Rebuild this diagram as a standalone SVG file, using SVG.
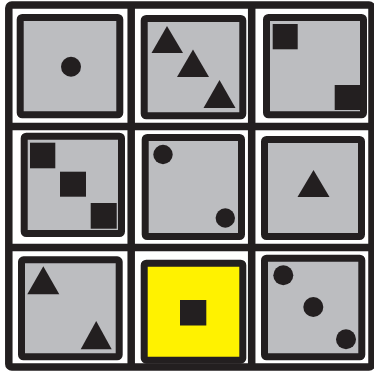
<svg xmlns="http://www.w3.org/2000/svg" width="374" height="373" viewBox="0 0 374 373">
<style>
.box{fill:#bcbdc0;stroke:#231f20;stroke-width:7}
.yel{fill:#fff200;stroke:#231f20;stroke-width:7}
.grid{fill:none;stroke:#231f20;stroke-width:7.5}
.s{fill:#231f20}
</style>
<rect width="374" height="373" fill="#ffffff"/>
<g id="grid" class="grid">
<rect x="8.8" y="5" width="363.2" height="362" rx="3"/>
<line x1="131.2" y1="5" x2="131.2" y2="367"/>
<line x1="251.7" y1="5" x2="251.7" y2="367"/>
<line x1="8.8" y1="126.4" x2="372" y2="126.4"/>
<line x1="8.8" y1="247.4" x2="372" y2="247.4"/>
</g>
<g id="cell1">
<rect class="box" x="20.2" y="17.5" width="99.6" height="97.3" rx="2"/>
<circle class="s" cx="71" cy="66.7" r="10"/>
</g>
<g id="cell2">
<rect class="box" x="144.2" y="18.5" width="98.6" height="97.3" rx="2"/>
<polygon class="s" points="167,26 183,53 151.5,53"/>
<polygon class="s" points="193,49.5 209,77 177,77"/>
<polygon class="s" points="219.5,80 235.5,108 203.5,108"/>
</g>
<g id="cell3">
<rect class="box" x="266.5" y="17.5" width="97" height="97.3" rx="2"/>
<rect class="s" x="272.7" y="24" width="25" height="25.3"/>
<rect class="s" x="334.7" y="85" width="25.6" height="25"/>
</g>
<g id="cell4">
<rect class="box" x="24.2" y="136.2" width="97.3" height="97.3" rx="2"/>
<rect class="s" x="30" y="142.7" width="25.3" height="25.6"/>
<rect class="s" x="60" y="171.7" width="26" height="25"/>
<rect class="s" x="90.7" y="203" width="26" height="25.7"/>
</g>
<g id="cell5">
<rect class="box" x="145.2" y="137.5" width="96.3" height="99" rx="2"/>
<circle class="s" cx="163" cy="154.5" r="9.7"/>
<circle class="s" cx="225.3" cy="218" r="9.7"/>
</g>
<g id="cell6">
<rect class="box" x="264.5" y="139.5" width="97" height="97" rx="2"/>
<polygon class="s" points="313.5,170 329.5,197 297.5,197"/>
</g>
<g id="cell7">
<rect class="box" x="21.5" y="259.8" width="97.7" height="97" rx="2"/>
<polygon class="s" points="43.3,266.3 59.3,294.3 27.3,294.3"/>
<polygon class="s" points="96.2,321 111.7,349.3 80.7,349.3"/>
</g>
<g id="cell8">
<rect class="yel" x="144.2" y="263.2" width="98.6" height="97" rx="2"/>
<rect class="s" x="180" y="300" width="26.3" height="25.5"/>
</g>
<g id="cell9">
<rect class="box" x="264.5" y="258.2" width="97.3" height="98.6" rx="2"/>
<circle class="s" cx="283.3" cy="275.3" r="10"/>
<circle class="s" cx="313.3" cy="307" r="10"/>
<circle class="s" cx="346" cy="339.3" r="10"/>
</g>
</svg>
